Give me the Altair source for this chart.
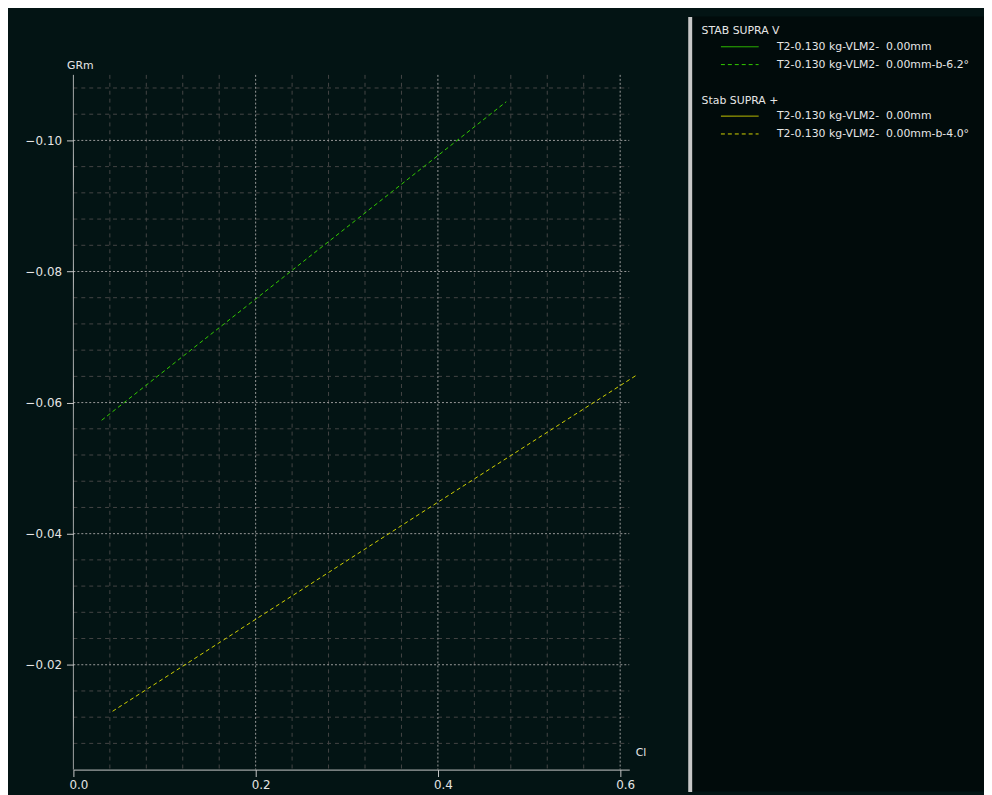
import altair as alt
import pandas as pd

# ---- data ----
green_cl = [0.031, 0.200, 0.475]
green_grm = [-0.0573, -0.0758, -0.1059]
yellow_cl = [0.043, 0.400, 0.617]
yellow_grm = [-0.0129, -0.0448, -0.0641]

V_TITLE = "STAB SUPRA V"
P_TITLE = "Stab SUPRA +"
V_SOLID = "T2-0.130 kg-VLM2-\u00a0 0.00mm"
V_DASH = "T2-0.130 kg-VLM2-\u00a0 0.00mm-b-6.2°"
P_SOLID = "T2-0.130 kg-VLM2-\u00a0 0.00mm "
P_DASH = "T2-0.130 kg-VLM2-\u00a0 0.00mm-b-4.0°"

x_major = [0.2, 0.4, 0.6]
x_minor = [0.04, 0.08, 0.12, 0.16, 0.24, 0.28, 0.32, 0.36, 0.44, 0.48, 0.52, 0.56]
y_major = [-0.10, -0.08, -0.06, -0.04, -0.02]
y_minor = [-0.108, -0.104, -0.096, -0.092, -0.088, -0.084, -0.076, -0.072, -0.068,
           -0.064, -0.056, -0.052, -0.048, -0.044, -0.036, -0.032, -0.028, -0.024,
           -0.016, -0.012, -0.008]
x_ticks = [0.0, 0.2, 0.4, 0.6]

# axis extents of the original plot
X_MIN, X_MAX = 0.0, 0.61
Y_TOP, Y_BOT = -0.11, -0.004

# ---- styles ----
BG = "#031414"
PANEL = "#010b0b"
GREEN = "#33cc00"
YELLOW = "#d2d200"
TXT = "#e6e6e6"
AXIS = "#c8c8c8"
FONT = "DejaVu Sans"

df_lines = pd.DataFrame({
    "cl": green_cl + yellow_cl,
    "grm": green_grm + yellow_grm,
    "group": ["V"] * len(green_cl) + ["P"] * len(yellow_cl),
    "series": [V_DASH] * len(green_cl) + [P_DASH] * len(yellow_cl),
})

W, H = 561, 760
xs = alt.Scale(domain=[X_MIN, X_MAX], nice=False, zero=False)
# extra head-room above the axis (the y axis itself ends at Y_TOP)
ys = alt.Scale(domain=[-0.1189, Y_BOT], nice=False, zero=False, reverse=True)

x_axis = alt.Axis(
    values=x_ticks, format=".1f", grid=False, tickSize=7, tickColor=AXIS,
    domainColor=AXIS, labelColor=TXT, labelFont=FONT, labelFontSize=12,
    labelPadding=3, labelFlush=False, labelOffset=5,
    title="Cl", titleX=W + 6, titleY=-17, titleAlign="left", titleBaseline="middle",
    titleAngle=0, titleFont=FONT, titleFontSize=11, titleFontWeight="normal",
    titleColor=TXT)
y_axis = alt.Axis(
    values=y_major, format=".2f", grid=False, domain=False, tickSize=7, tickColor=AXIS,
    labelColor=TXT, labelFont=FONT, labelFontSize=12, labelPadding=5, labelFlush=False,
    title="GRm", titleX=-7, titleY=54, titleAlign="left", titleBaseline="bottom",
    titleAngle=0, titleFont=FONT, titleFontSize=11, titleFontWeight="normal",
    titleColor=TXT)


def vrules(vals, color, dash):
    d = pd.DataFrame({"v": vals, "y1": [Y_TOP] * len(vals), "y2": [Y_BOT] * len(vals)})
    return alt.Chart(d).mark_rule(color=color, strokeDash=dash, strokeWidth=1).encode(
        x=alt.X("v:Q", scale=xs, axis=x_axis),
        y=alt.Y("y1:Q", scale=ys, axis=y_axis),
        y2="y2:Q",
    )


def hrules(vals, color, dash):
    d = pd.DataFrame({"v": vals, "x1": [X_MIN] * len(vals), "x2": [X_MAX] * len(vals)})
    return alt.Chart(d).mark_rule(color=color, strokeDash=dash, strokeWidth=1).encode(
        y=alt.Y("v:Q", scale=ys, axis=y_axis),
        x=alt.X("x1:Q", scale=xs, axis=x_axis),
        x2="x2:Q",
    )


vminor = vrules(x_minor, "#454545", [4, 4])
hminor = hrules(y_minor, "#454545", [4, 4])
vmajor = vrules(x_major, "#9a9a9a", [2, 2])
hmajor = hrules(y_major, "#9a9a9a", [2, 2])
yline = vrules([X_MIN], AXIS, [1, 0])

lines = alt.Chart(df_lines).mark_line(strokeDash=[4, 3], strokeWidth=1, clip=False).encode(
    x=alt.X("cl:Q", scale=xs, axis=x_axis),
    y=alt.Y("grm:Q", scale=ys, axis=y_axis),
    color=alt.Color("group:N", scale=alt.Scale(domain=["V", "P"], range=[GREEN, YELLOW]), legend=None),
    detail="series:N",
)

plot = alt.layer(vminor, hminor, vmajor, hmajor, yline, lines).properties(width=W, height=H)

sep_axis = alt.Axis(domain=True, domainColor=AXIS, domainWidth=4, labels=False,
                    ticks=False, grid=False, title=None)


def legend_layer(group, title, domain, color, ly):
    return alt.Chart(df_lines).transform_filter(alt.datum.group == group).mark_line(
        clip=True, color=color, strokeWidth=1
    ).encode(
        x=alt.X("cl:Q", axis=None, scale=alt.Scale(domain=[10, 11])),
        y=alt.Y("grm:Q", axis=sep_axis, scale=alt.Scale(domain=[10, 11])),
        strokeDash=alt.StrokeDash(
            "series:N",
            scale=alt.Scale(domain=domain, range=[[1, 0], [4, 3]]),
            legend=alt.Legend(
                title=title, orient="none", legendX=12, legendY=ly,
                symbolType="stroke", symbolSize=1444, symbolStrokeColor=color,
                symbolStrokeWidth=1, symbolOffset=19, labelOffset=18,
                clipHeight=17, rowPadding=1, titlePadding=2, padding=0,
                labelFont=FONT, labelFontSize=11, labelColor=TXT, labelLimit=400,
                titleFont=FONT, titleFontSize=11, titleFontWeight="normal",
                titleColor=TXT, titleLimit=400,
            ),
        ),
    )


panel = alt.layer(
    legend_layer("V", V_TITLE, [V_SOLID, V_DASH], GREEN, 9),
    legend_layer("P", P_TITLE, [P_SOLID, P_DASH], YELLOW, 79),
).resolve_scale(strokeDash="independent").properties(
    width=297, height=782, view=alt.ViewBackground(fill=PANEL)
)

chart = alt.hconcat(plot, panel, spacing=44).properties(
    background=BG,
    padding={"left": 17, "top": 5, "right": 0, "bottom": 0},
).configure_view(strokeWidth=0)

chart.save("out.html", embed_options={"renderer": "svg", "actions": False})
